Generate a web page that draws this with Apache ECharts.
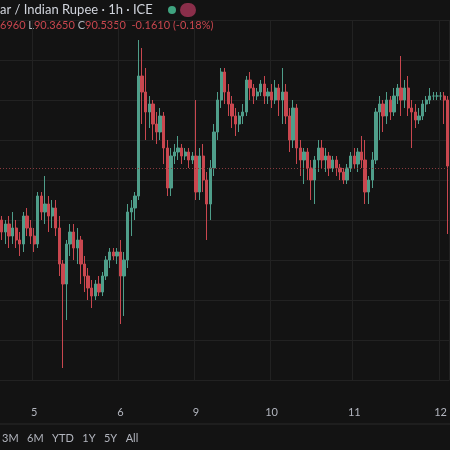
<!DOCTYPE html>
<html>
<head>
<meta charset="utf-8">
<script src="https://cdn.jsdelivr.net/npm/echarts@6/dist/echarts.min.js"></script>
<style>html,body{margin:0;padding:0;background:#131313;}#main{width:450px;height:450px;}</style>
</head>
<body>
<div id="main"></div>
<script>
// hourly bars, [open, close, low, high]
var ohlc = [
  [90.40,90.37,90.35,90.41],[90.37,90.39,90.34,90.40],[90.39,90.36,90.33,90.41],[90.36,90.38,90.34,90.42],
  [90.38,90.35,90.33,90.40],[90.35,90.34,90.31,90.37],[90.34,90.41,90.32,90.42],[90.41,90.38,90.36,90.43],
  [90.38,90.36,90.34,90.40],[90.36,90.34,90.32,90.38],[90.34,90.46,90.33,90.47],[90.46,90.42,90.40,90.47],
  [90.42,90.44,90.39,90.51],[90.44,90.41,90.37,90.46],[90.41,90.43,90.38,90.45],[90.43,90.38,90.36,90.45],
  [90.38,90.29,90.26,90.41],[90.29,90.24,90.03,90.30],[90.24,90.34,90.15,90.35],[90.34,90.37,90.31,90.39],
  [90.37,90.33,90.30,90.39],[90.33,90.35,90.29,90.38],[90.35,90.29,90.24,90.36],[90.29,90.26,90.22,90.31],
  [90.26,90.23,90.20,90.28],[90.23,90.21,90.18,90.25],[90.21,90.24,90.20,90.25],[90.24,90.22,90.21,90.26],
  [90.22,90.26,90.21,90.27],[90.26,90.30,90.25,90.31],[90.30,90.32,90.28,90.33],[90.32,90.31,90.30,90.33],
  [90.31,90.32,90.29,90.33],[90.32,90.26,90.14,90.35],[90.26,90.30,90.16,90.32],[90.30,90.42,90.28,90.44],
  [90.42,90.43,90.36,90.45],[90.43,90.46,90.40,90.47],[90.46,90.76,90.45,90.85],[90.76,90.72,90.64,90.83],
  [90.72,90.67,90.60,90.78],[90.67,90.69,90.63,90.71],[90.69,90.64,90.60,90.70],[90.64,90.62,90.59,90.67],
  [90.62,90.66,90.60,90.68],[90.66,90.58,90.54,90.67],[90.58,90.48,90.46,90.60],[90.48,90.56,90.46,90.58],
  [90.56,90.57,90.54,90.59],[90.57,90.58,90.55,90.61],[90.58,90.56,90.54,90.59],[90.56,90.57,90.55,90.58],
  [90.57,90.55,90.53,90.58],[90.55,90.56,90.54,90.57],[90.56,90.47,90.45,90.70],[90.47,90.56,90.45,90.58],
  [90.56,90.50,90.47,90.59],[90.50,90.44,90.35,90.52],[90.44,90.53,90.40,90.55],[90.53,90.62,90.51,90.64],
  [90.62,90.70,90.60,90.72],[90.70,90.77,90.68,90.78],[90.77,90.72,90.69,90.78],[90.72,90.69,90.66,90.74],
  [90.69,90.66,90.63,90.71],[90.66,90.64,90.61,90.68],[90.64,90.66,90.62,90.67],[90.66,90.67,90.64,90.69],
  [90.67,90.75,90.66,90.76],[90.75,90.73,90.70,90.77],[90.73,90.71,90.69,90.74],[90.71,90.72,90.70,90.73],
  [90.72,90.74,90.71,90.75],[90.74,90.71,90.69,90.76],[90.71,90.72,90.69,90.73],[90.72,90.70,90.68,90.74],
  [90.70,90.73,90.69,90.75],[90.73,90.70,90.66,90.74],[90.70,90.72,90.64,90.78],[90.72,90.66,90.64,90.74],
  [90.66,90.60,90.57,90.68],[90.60,90.68,90.58,90.70],[90.68,90.58,90.54,90.69],[90.58,90.55,90.51,90.60],
  [90.55,90.57,90.49,90.58],[90.57,90.53,90.50,90.58],[90.53,90.50,90.45,90.55],[90.50,90.55,90.44,90.56],
  [90.55,90.58,90.52,90.60],[90.58,90.55,90.53,90.60],[90.55,90.56,90.52,90.58],[90.56,90.53,90.51,90.57],
  [90.53,90.55,90.52,90.56],[90.55,90.53,90.51,90.56],[90.53,90.52,90.50,90.54],[90.52,90.50,90.49,90.53],
  [90.50,90.53,90.49,90.54],[90.53,90.56,90.52,90.57],[90.56,90.54,90.53,90.58],[90.54,90.57,90.52,90.58],
  [90.57,90.55,90.53,90.61],[90.55,90.47,90.44,90.60],[90.47,90.50,90.44,90.51],[90.50,90.55,90.48,90.57],
  [90.55,90.67,90.54,90.68],[90.67,90.69,90.60,90.71],[90.69,90.66,90.62,90.70],[90.66,90.70,90.64,90.72],
  [90.70,90.67,90.65,90.71],[90.67,90.71,90.66,90.73],[90.71,90.73,90.69,90.74],[90.73,90.70,90.66,90.81],
  [90.70,90.73,90.68,90.75],[90.73,90.68,90.66,90.76],[90.68,90.67,90.58,90.70],[90.67,90.65,90.63,90.69],
  [90.65,90.66,90.64,90.68],[90.66,90.69,90.65,90.70],[90.69,90.70,90.67,90.71],[90.70,90.71,90.69,90.73],
  [90.71,90.71,90.70,90.72],[90.71,90.71,90.70,90.72],[90.71,90.71,90.70,90.72],[90.71,90.70,90.64,90.72],
  [90.70,90.535,90.365,90.71]
];
// day labels: bar index -> text
var dayIdx = [9, 33, 54, 75, 98, 122];
var dayLabels = ['5', '6', '9', '10', '11', '12'];
var lastClose = 90.535;

var cats = [];
for (var i = 0; i < ohlc.length; i++) {
    var k = dayIdx.indexOf(i);
    cats.push(k >= 0 ? dayLabels[k] : '');
}
function isDay(i) { return dayIdx.indexOf(i) >= 0; }

var chart = echarts.init(document.getElementById('main'));
chart.setOption({
    backgroundColor: '#131313',
    animation: false,
    grid: {left: 0, right: 0, top: 20, height: 360},
    xAxis: {
        type: 'category', data: cats, boundaryGap: true,
        axisLine: {show: false}, axisTick: {show: false},
        axisLabel: {interval: function (i) { return isDay(i); }, color: '#b2b5be', fontSize: 11, margin: 27, fontFamily: 'Lato'},
        splitLine: {show: true, interval: function (i) { return isDay(i); }, lineStyle: {color: '#222222'}}
    },
    yAxis: {
        type: 'value', min: 90.0, max: 90.9, interval: 0.1, position: 'right',
        axisLabel: {show: false}, axisLine: {show: false}, axisTick: {show: false},
        splitLine: {lineStyle: {color: '#222222'}}
    },
    series: [{
        type: 'candlestick',
        data: ohlc,
        barWidth: 2.8,
        itemStyle: {color: '#4f9e8a', color0: '#c9474f', borderColor: '#4f9e8a', borderColor0: '#c9474f', borderWidth: 1},
        markLine: {
            symbol: 'none', silent: true, label: {show: false},
            lineStyle: {color: '#8a3a3e', type: [1, 2], width: 1},
            data: [{yAxis: lastClose}]
        }
    }],
    graphic: [
        {type: 'text', left: 0, top: 3, style: {text: 'ar / Indian Rupee · 1h · ICE', fill: '#d1d4dc', fontSize: 13, fontFamily: 'Lato'}},
        {type: 'circle', shape: {cx: 172, cy: 10, r: 4}, style: {fill: '#3fa37f'}},
        {type: 'rect', shape: {x: 180, y: 3, width: 16, height: 14, r: 7}, style: {fill: '#8a2e4a'}},
        {type: 'text', left: 0, top: 20, style: {
            text: '{r|6960 }{g|L}{r|90.3650 }{g|C}{r|90.5350  -0.1610 (-0.18%)}',
            rich: {r: {fill: '#c9474f', fontSize: 11, fontFamily: 'Lato'}, g: {fill: '#b2b5be', fontSize: 11, fontFamily: 'Lato'}}
        }},
        {type: 'line', shape: {x1: 0, y1: 424, x2: 450, y2: 424}, style: {stroke: '#2a2a2a', lineWidth: 1}},
        {type: 'text', left: 2, top: 433, style: {text: '3M   6M   YTD   1Y   5Y   All', fill: '#b2b5be', fontSize: 11, fontFamily: 'Lato'}}
    ]
});
</script>
</body>
</html>
